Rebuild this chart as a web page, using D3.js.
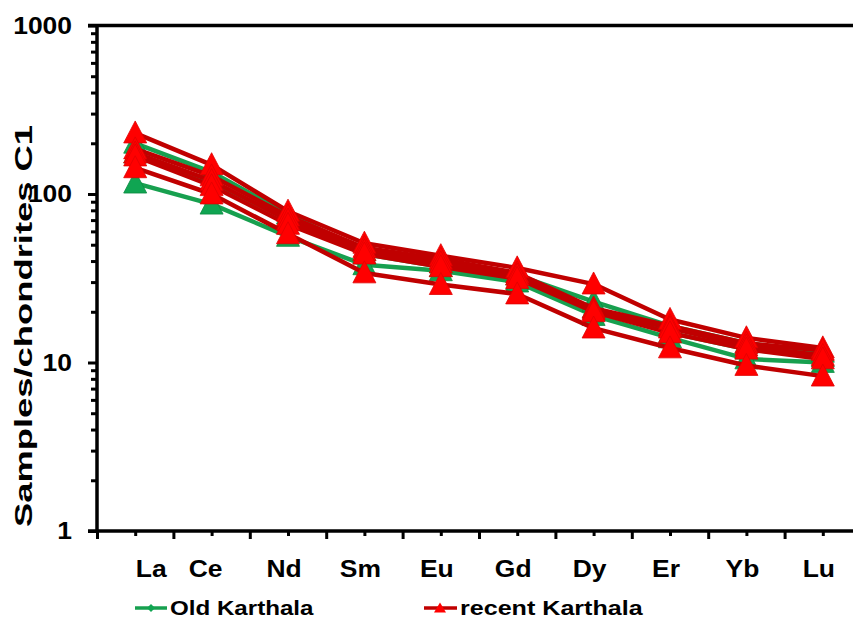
<!DOCTYPE html>
<html><head><meta charset="utf-8">
<script src="https://cdn.jsdelivr.net/npm/d3@7"></script>
<style>body{margin:0;background:#fff;} svg{display:block;}</style>
</head><body>
<svg id="c" width="853" height="620"></svg>
<script>
// ---------- data ----------
const elements = ["La","Ce","Nd","Sm","Eu","Gd","Dy","Er","Yb","Lu"];
const yTickValues = [1, 10, 100, 1000];
const yTickLabels = ["1", "10", "100", "1000"];
const seriesNames = ["Old Karthala", "recent Karthala"];

// Old Karthala samples (chondrite-normalised)
const old1 = [200, 135, 76, 46, 39, 33, 23, 16.5, 13, 11.5];
const old2 = [175, 118, 70, 44, 37, 31, 21, 15, 12, 10.8];
const old3 = [116, 87, 56, 38, 35, 30, 19, 14, 10.5, 10];
// recent Karthala samples
const rec1 = [230, 149, 79, 51, 43, 36.4, 29.2, 18, 14, 12.2];
const rec2 = [185, 128, 74, 48, 41, 34, 21, 16.5, 13, 11.8];
const rec3 = [175, 120, 70, 46, 39, 33, 20.5, 16, 12.5, 11];
const rec4 = [168, 112, 66, 44, 37, 31.5, 20, 15, 12, 10.5];
const rec5 = [143, 100, 58, 34, 29, 25.5, 16, 12.2, 9.6, 8.3];

const oldSeries = [old1, old2, old3];
const recentSeries = [rec1, rec2, rec3, rec4, rec5];

// ---------- layout ----------
const svg = d3.select("#c");
const pLeft = 97, pRight = 861, pTop = 25.5, pBottom = 531;
const FONT = "'Liberation Sans', Arial, sans-serif";
const SX = 1.15; // horizontal stretch of the original text

const xTick = d3.scaleLinear().domain([0, elements.length * 2]).range([pLeft, pRight]);
const x = d => xTick(elements.indexOf(d) * 2 + 1);
const y = d3.scaleLog().domain([1, 1000]).range([pBottom, pTop]);

// ---------- axes ----------
const minorY = [];
for (let dec = 1; dec < 1000; dec *= 10) for (let k = 2; k <= 9; k++) minorY.push(dec * k);

const gyMinor = svg.append("g").attr("transform", `translate(${pLeft},0)`)
  .call(d3.axisLeft(y).tickValues(minorY).tickSize(6).tickFormat(""));
const gy = svg.append("g").attr("transform", `translate(${pLeft},0)`)
  .call(d3.axisLeft(y).tickValues(yTickValues).tickSize(9).tickFormat(""));
const gxMinor = svg.append("g").attr("transform", `translate(0,${pBottom})`)
  .call(d3.axisBottom(xTick).tickValues(d3.range(1, elements.length * 2, 2)).tickSize(5).tickFormat(""));
const gx = svg.append("g").attr("transform", `translate(0,${pBottom})`)
  .call(d3.axisBottom(xTick).tickValues(d3.range(0, elements.length * 2 + 1, 2)).tickSize(8).tickFormat(""));
[gyMinor, gy, gxMinor, gx].forEach(g => {
  g.select(".domain").remove();
  g.selectAll(".tick line").attr("stroke", "#000").attr("stroke-width", 3);
});
// frame lines (left, bottom, top)
svg.append("line").attr("x1", pLeft).attr("x2", pLeft).attr("y1", pTop - 1.5).attr("y2", pBottom + 1.5)
  .attr("stroke", "#000").attr("stroke-width", 3.5);
svg.append("line").attr("x1", pLeft - 9).attr("x2", 853).attr("y1", pBottom).attr("y2", pBottom)
  .attr("stroke", "#000").attr("stroke-width", 3.5);
svg.append("line").attr("x1", pLeft - 9).attr("x2", 853).attr("y1", pTop).attr("y2", pTop)
  .attr("stroke", "#000").attr("stroke-width", 3.5);

// y tick labels
yTickValues.forEach((v, i) => {
  svg.append("text")
    .attr("transform", `translate(72,${y(v)}) scale(${SX},1)`)
    .attr("text-anchor", "end").attr("dy", "0.36em")
    .attr("font-family", FONT).attr("font-weight", "bold").attr("font-size", 23)
    .text(yTickLabels[i]);
});

// category labels
const labelNudge = {La: 20, Ce: -2};
elements.forEach(e => {
  svg.append("text")
    .attr("transform", `translate(${x(e) - 4 + (labelNudge[e] || 0)},577) scale(${SX},1)`)
    .attr("text-anchor", "middle")
    .attr("font-family", FONT).attr("font-weight", "bold").attr("font-size", 23)
    .text(e);
});

// y title
svg.append("text")
  .attr("transform", `translate(32,326) rotate(-90)`)
  .attr("text-anchor", "middle")
  .attr("font-family", FONT).attr("font-weight", "bold").attr("font-size", 24)
  .attr("textLength", 402).attr("lengthAdjust", "spacingAndGlyphs")
  .text("Samples/chondrites C1");

// ---------- series ----------
const GREEN_LINE = "#17a04f", GREEN_FILL = "#10a552";
const RED_LINE = "#c00000", RED_FILL = "#ff0000";
const line = d3.line().x((d, i) => x(elements[i])).y(d => y(d));
const tri = (cx, cy, w, h) => `M${cx},${cy - h * 0.55}L${cx + w / 2},${cy + h * 0.45}L${cx - w / 2},${cy + h * 0.45}Z`;

function drawGroup(list, lineColor, fillColor, edge) {
  const g = svg.append("g");
  list.forEach(s => {
    g.append("path").attr("d", line(s)).attr("fill", "none")
      .attr("stroke", lineColor).attr("stroke-width", 4.5).attr("stroke-linejoin", "round");
  });
  list.forEach(s => {
    g.selectAll(null).data(s).enter().append("path")
      .attr("d", (d, i) => tri(x(elements[i]), y(d), 23, 22))
      .attr("fill", fillColor).attr("stroke", edge).attr("stroke-width", 0.8);
  });
}
drawGroup(oldSeries, GREEN_LINE, GREEN_FILL, "#0a8a40");
drawGroup(recentSeries, RED_LINE, RED_FILL, "#e00000");

// ---------- legend ----------
const lg = svg.append("g");
lg.append("line").attr("x1", 135).attr("x2", 167).attr("y1", 608).attr("y2", 608)
  .attr("stroke", GREEN_LINE).attr("stroke-width", 3.5);
lg.append("path").attr("d", "M151,604L155,608L151,612L147,608Z").attr("fill", GREEN_FILL);
lg.append("text").attr("transform", `translate(170,615) scale(${SX},1)`)
  .attr("font-family", FONT).attr("font-weight", "bold").attr("font-size", 21)
  .text(seriesNames[0]);
lg.append("line").attr("x1", 424).attr("x2", 457).attr("y1", 608).attr("y2", 608)
  .attr("stroke", RED_LINE).attr("stroke-width", 3.5);
lg.append("path").attr("d", tri(440, 608, 12, 10)).attr("fill", RED_FILL);
lg.append("text").attr("transform", `translate(460,615) scale(${SX * 1.04},1)`)
  .attr("font-family", FONT).attr("font-weight", "bold").attr("font-size", 21)
  .text(seriesNames[1]);
</script>
</body></html>
